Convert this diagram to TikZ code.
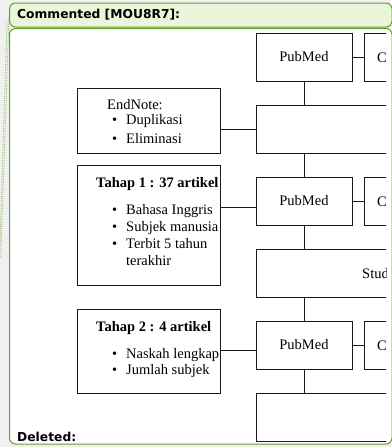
\documentclass[tikz,border=0pt]{standalone}
\usepackage{fontspec}
\setmainfont{Liberation Serif}
\newfontfamily\uisans{DejaVu Sans}
\definecolor{pagebg}{HTML}{F0F0F0}
\definecolor{cmtfill}{HTML}{EAF6DA}
\definecolor{cmtline}{HTML}{6A9B2E}
\definecolor{dotline}{HTML}{A8BF90}
\definecolor{boxline}{HTML}{1A1A1A}
\tikzset{
  fbox/.style={draw=boxline, line width=1pt, fill=white},
  conn/.style={draw=boxline, line width=1pt},
  txt/.style={inner sep=0pt, anchor=base west, font=\fontsize{14.5}{17}\selectfont},
  ctxt/.style={inner sep=0pt, font=\fontsize{14.5}{17}\selectfont},
  hdr/.style={inner sep=0pt, anchor=base west, font=\uisans\bfseries\fontsize{12.3}{14}\selectfont},
}
\begin{document}
\begin{tikzpicture}[x=1pt,y=-1pt]
\useasboundingbox (0,0) rectangle (391,447);
\fill[pagebg] (0,0) rectangle (391,447);
% dotted leader lines
\draw[dotline, line width=0.8pt, dash pattern=on 1pt off 1pt] (9,16) -- (0.8,258);
\draw[dotline, line width=0.8pt, dash pattern=on 1pt off 1pt] (7,22) -- (-0.5,258);
% header
\draw[cmtline, fill=cmtfill, line width=1pt, rounded corners=6pt] (9.5,3) rectangle (392,27);
\node[hdr] (hdrtext) at (17,19) {Commented [MOU8R7]:};
% main frame
\draw[cmtline, fill=white, line width=1pt, rounded corners=6pt] (9.5,28.5) rectangle (392,444);
\node[hdr] (deltext) at (17,441) {Deleted:};
\begin{scope}
\clip (10,29) rectangle (386,443);
% right column boxes
\node[fbox, minimum width=96pt, minimum height=48pt] (pm1) at (304,57) {};
\node[fbox, minimum width=60pt, minimum height=48pt, anchor=west] (c1) at (364,57) {};
\node[fbox, minimum width=160pt, minimum height=48pt, anchor=north west] (big1) at (256,105) {};
\node[fbox, minimum width=96pt, minimum height=48pt] (pm2) at (304,201) {};
\node[fbox, minimum width=60pt, minimum height=48pt, anchor=west] (c2) at (364,201) {};
\node[fbox, minimum width=160pt, minimum height=48pt, anchor=north west] (studi) at (256,249) {};
\node[fbox, minimum width=96pt, minimum height=48pt] (pm3) at (304,345) {};
\node[fbox, minimum width=60pt, minimum height=48pt, anchor=west] (c3) at (364,345) {};
\node[fbox, minimum width=160pt, minimum height=48pt, anchor=north west] (big3) at (256,393) {};
% left boxes
\node[fbox, minimum width=143pt, minimum height=65pt, anchor=north west] (endnote) at (77,88) {};
\node[fbox, minimum width=143pt, minimum height=120pt, anchor=north west] (tahap1) at (77,165) {};
\node[fbox, minimum width=143pt, minimum height=84pt, anchor=north west] (tahap2) at (77,309) {};
% connectors
\draw[conn] (pm1.east) -- (c1.west);
\draw[conn] (pm2.east) -- (c2.west);
\draw[conn] (pm3.east) -- (c3.west);
\draw[conn] (pm1.south) -- (pm1.south |- big1.north);
\draw[conn] (pm2.north) -- (pm2.north |- big1.south);
\draw[conn] (pm2.south) -- (pm2.south |- studi.north);
\draw[conn] (pm3.north) -- (pm3.north |- studi.south);
\draw[conn] (pm3.south) -- (pm3.south |- big3.north);
\draw[conn] (endnote.east |- 0,129) -- (big1.west |- 0,129);
\draw[conn] (tahap1.east |- 0,207) -- (pm2.west |- 0,207);
\draw[conn] (tahap2.east |- 0,350) -- (pm3.west |- 0,350);
% texts in right column
\node[ctxt] (pm1t) at (pm1.center) {PubMed};
\node[ctxt] (pm2t) at (pm2.center) {PubMed};
\node[ctxt] (pm3t) at (pm3.center) {PubMed};
\node[txt] (c1t) at (377,62) {C};
\node[txt] (c2t) at (377,206) {C};
\node[txt] (c3t) at (377,350) {C};
\node[txt] (studit) at (362,278) {Stud};
% texts in left boxes
\node[txt] (en0) at (107,109) {EndNote:};
\node[txt] (en1) at (112,124) {•}; \node[txt] (en1t) at (126,124) {Duplikasi};
\node[txt] (en2) at (112,143) {•}; \node[txt] (en2t) at (126,143) {Eliminasi};
\node[txt, font=\bfseries\fontsize{14.5}{17}\selectfont] (t10) at (96,187) {Tahap 1 : 37 artikel};
\node[txt] (t11) at (112,214) {•}; \node[txt] (t11t) at (126,214) {Bahasa Inggris};
\node[txt] (t12) at (112,231) {•}; \node[txt] (t12t) at (126,231) {Subjek manusia};
\node[txt] (t13) at (112,248) {•}; \node[txt] (t13t) at (126,248) {Terbit 5 tahun};
\node[txt] (t14t) at (126,265) {terakhir};
\node[txt, font=\bfseries\fontsize{14.5}{17}\selectfont] (t20) at (96,331) {Tahap 2 : 4 artikel};
\node[txt] (t21) at (112,358) {•}; \node[txt] (t21t) at (126,358) {Naskah lengkap};
\node[txt] (t22) at (112,374) {•}; \node[txt] (t22t) at (126,374) {Jumlah subjek};
\end{scope}
\end{tikzpicture}
\end{document}
